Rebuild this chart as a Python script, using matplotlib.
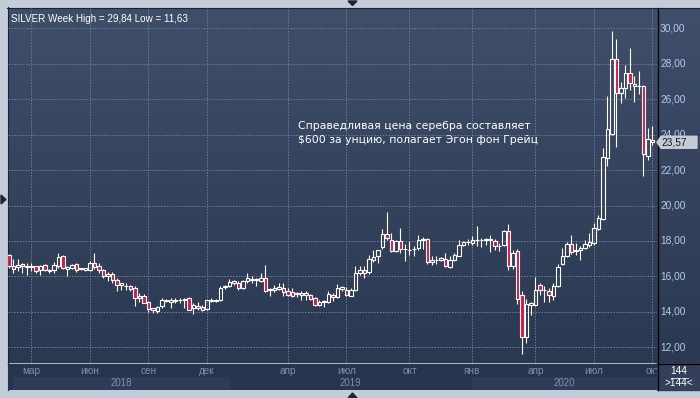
import numpy as np
import matplotlib
matplotlib.use('Agg')
import matplotlib.pyplot as plt
import matplotlib.colors as mcolors
from matplotlib.patches import Rectangle, Polygon
from matplotlib.transforms import blended_transform_factory

# weekly OHLC
opens = [17.21, 16.60, 16.52, 16.71, 16.56, 16.52, 16.56, 16.34, 16.65, 16.28,
         16.37, 16.60, 17.16, 16.43, 16.47, 16.71, 16.42, 16.47, 16.37, 16.75,
         16.56, 16.37, 16.13, 16.13, 15.81, 15.53, 15.48, 15.44, 15.35, 14.79,
         14.88, 14.54, 14.19, 14.04, 14.32, 14.60, 14.69, 14.60, 14.65, 14.69,
         14.79, 14.22, 14.35, 14.28, 14.17, 14.60, 14.65, 14.65, 15.40, 15.48,
         15.72, 15.60, 15.34, 15.75, 15.85, 15.81, 15.75, 15.91, 15.21, 15.25,
         15.30, 15.34, 15.15, 15.09, 15.06, 14.96, 15.06, 14.96, 14.77, 14.40,
         14.55, 14.53, 14.96, 14.81, 15.30, 15.25, 14.92, 15.21, 16.19, 16.38,
         16.23, 16.91, 17.13, 17.66, 18.42, 18.08, 17.42, 17.98, 17.55, 17.51,
         17.55, 17.60, 18.08, 18.11, 16.83, 16.91, 16.94, 16.98, 16.53, 16.94,
         17.17, 17.79, 17.92, 17.89, 18.06, 18.04, 18.04, 18.11, 18.02, 17.72,
         17.79, 18.55, 16.57, 17.42, 14.96, 12.57, 14.49, 14.40, 15.53, 15.21,
         15.19, 14.92, 15.43, 16.72, 17.17, 17.85, 17.42, 17.51, 17.60, 17.79,
         17.89, 18.68, 19.23, 22.67, 24.04, 28.25, 26.37, 26.62, 27.46, 26.85,
         26.75, 26.75, 22.78, 23.72]
highs = [17.25, 16.97, 16.97, 16.75, 16.75, 16.75, 16.60, 16.65, 16.70, 16.40,
         16.79, 17.30, 17.20, 16.56, 16.70, 16.75, 16.50, 16.50, 16.84, 17.34,
         16.75, 16.43, 16.22, 16.22, 15.90, 15.63, 15.63, 15.53, 15.44, 15.07,
         15.03, 14.60, 14.22, 14.35, 14.79, 14.75, 14.79, 14.79, 14.79, 14.79,
         14.83, 14.47, 14.54, 14.41, 14.69, 14.79, 14.70, 15.44, 15.53, 15.85,
         15.78, 15.72, 15.81, 16.19, 16.00, 15.91, 16.19, 16.66, 15.34, 15.53,
         15.62, 15.62, 15.34, 15.34, 15.09, 15.15, 15.15, 15.02, 14.83, 14.68,
         14.68, 15.15, 15.06, 15.58, 15.47, 15.40, 15.34, 16.57, 16.60, 16.60,
         17.23, 17.51, 17.51, 18.68, 19.62, 18.45, 18.08, 18.74, 17.80, 17.98,
         17.70, 18.36, 18.20, 18.17, 17.13, 17.17, 17.09, 17.32, 17.13, 17.32,
         18.08, 17.98, 18.11, 18.30, 18.87, 18.17, 18.17, 18.36, 18.11, 17.89,
         18.60, 18.98, 17.51, 17.55, 15.15, 14.72, 14.58, 15.96, 15.62, 15.47,
         15.34, 15.62, 16.72, 17.60, 17.92, 18.36, 17.89, 17.70, 18.08, 18.45,
         19.02, 19.49, 23.23, 26.18, 29.84, 29.40, 27.00, 27.93, 28.87, 27.30,
         27.60, 26.80, 24.38, 24.50]
lows = [16.50, 16.19, 16.28, 16.19, 16.09, 16.28, 16.20, 16.09, 16.30, 16.20,
        16.19, 16.47, 16.40, 16.00, 16.40, 16.22, 16.38, 16.30, 16.28, 16.40,
        16.19, 15.90, 15.72, 15.63, 15.16, 15.25, 15.25, 15.16, 14.32, 14.57,
        14.47, 13.98, 13.94, 13.94, 14.22, 14.55, 14.22, 14.47, 14.50, 14.22,
        14.10, 13.90, 14.13, 14.04, 14.13, 14.54, 14.55, 14.60, 15.30, 15.40,
        15.50, 15.21, 15.28, 15.62, 15.62, 15.43, 15.70, 15.09, 14.91, 15.09,
        15.21, 14.91, 14.87, 14.83, 14.83, 14.68, 14.68, 14.68, 14.34, 14.34,
        14.26, 14.49, 14.62, 14.77, 15.17, 14.87, 14.87, 15.15, 16.09, 15.91,
        16.15, 16.79, 16.75, 17.55, 18.08, 17.36, 17.36, 17.32, 16.85, 17.23,
        17.13, 17.51, 17.55, 16.72, 16.66, 16.72, 16.85, 16.51, 16.47, 16.85,
        17.13, 17.74, 17.79, 17.79, 17.74, 17.66, 17.79, 17.36, 17.51, 17.42,
        17.70, 16.38, 16.42, 14.45, 11.63, 12.26, 13.83, 14.34, 14.96, 14.53,
        14.58, 14.68, 15.40, 16.66, 17.09, 17.28, 17.23, 16.94, 17.55, 17.66,
        17.79, 18.64, 19.20, 22.24, 23.98, 23.33, 25.77, 26.05, 26.50, 25.85,
        26.30, 21.68, 22.56, 23.40]
closes = [16.60, 16.40, 16.65, 16.56, 16.54, 16.60, 16.28, 16.56, 16.37, 16.37,
          16.65, 17.12, 16.47, 16.52, 16.65, 16.37, 16.47, 16.37, 16.75, 16.52,
          16.37, 16.00, 16.04, 15.81, 15.53, 15.60, 15.44, 15.30, 14.79, 14.92,
          14.50, 14.17, 14.08, 14.28, 14.69, 14.69, 14.56, 14.65, 14.69, 14.70,
          14.13, 14.41, 14.22, 14.13, 14.65, 14.69, 14.62, 15.35, 15.48, 15.66,
          15.60, 15.34, 15.75, 15.90, 15.81, 15.85, 15.91, 15.15, 15.28, 15.34,
          15.40, 15.09, 14.96, 14.91, 15.02, 15.06, 14.96, 14.72, 14.36, 14.58,
          14.62, 15.02, 14.81, 15.34, 15.38, 14.96, 15.25, 16.19, 16.34, 16.19,
          16.98, 17.09, 17.47, 18.42, 18.17, 17.42, 17.98, 17.55, 17.57, 17.47,
          17.56, 18.08, 18.11, 16.79, 16.90, 16.92, 17.04, 16.57, 16.94, 17.23,
          17.79, 17.92, 17.93, 18.08, 18.04, 18.08, 18.11, 18.08, 17.70, 17.74,
          18.55, 16.60, 17.32, 14.72, 12.57, 14.43, 14.40, 15.25, 15.21, 15.25,
          14.94, 15.47, 16.53, 17.17, 17.85, 17.36, 17.51, 17.60, 17.85, 17.92,
          18.74, 19.30, 22.73, 24.30, 28.25, 26.37, 26.62, 27.46, 26.90, 26.75,
          26.72, 22.93, 23.76, 23.57]

month_labels = ['мар', 'июн', 'сен', 'дек', 'апр', 'июл', 'окт', 'янв', 'апр', 'июл', 'окт']
month_pos = [5, 18, 31, 44, 62, 75, 89, 103, 117, 130, 143]
years = ['2018', '2019', '2020']
year_edges = [0.8, 48.9, 102.9, 144.0]
price_levels = [12, 14, 16, 18, 20, 22, 24, 26, 28, 30]
last_price = 23.57
bar_count = 144
title = 'SILVER Week High = 29,84 Low = 11,63'
note = 'Справедливая цена серебра составляет\n$600 за унцию, полагает Эгон фон Грейц'

W, H = 700, 398
frame_col = '#c3cdda'
grid_col = '#6b7b98'
red = '#e3123c'
num_font = 'Liberation Sans'


def box(x0, y0, x1, y1):
    # pixel rectangle (top-left origin) -> figure fraction
    return [x0 / W, 1 - y1 / H, (x1 - x0) / W, (y1 - y0) / H]


fig = plt.figure(figsize=(7, 3.98), dpi=100, facecolor=frame_col)

# background layer in pixel coordinates
bg = fig.add_axes([0, 0, 1, 1])
bg.set_xlim(0, W)
bg.set_ylim(H, 0)
bg.axis('off')
c_top = np.array(mcolors.to_rgb('#3f4e69'))
c_bot = np.array(mcolors.to_rgb('#2b3852'))
t = np.linspace(0, 1, 256)[:, None, None]
bg.imshow(c_top + (c_bot - c_top) * t, extent=(8, W, 363, 8), aspect='auto', zorder=0)
bg.add_patch(Rectangle((657, 363), W - 657, 27, color='#34405b', zorder=1))
bg.plot([7.5, 7.5], [7, 390], color='#1b2233', lw=0.8, zorder=3)
bg.plot([7, W], [7.5, 7.5], color='#1b2233', lw=0.8, zorder=3)
bg.plot([657.5, 657.5], [8, 390], color='black', lw=0.9, zorder=3)
bg.plot([8, W], [363.5, 363.5], color='black', lw=0.9, zorder=3)
bg.add_patch(Polygon([[1, 195], [6, 199.5], [1, 204]], color='#1c2538', zorder=3))
bg.add_patch(Polygon([[348, 1], [357, 1], [352.5, 5.5]], color='#1c2538', zorder=3))
bg.add_patch(Polygon([[348, 398], [357, 398], [352.5, 393]], color='#1c2538', zorder=3))
bg.text(679, 371.5, str(bar_count), color='white', fontsize=7.2, family=num_font,
        ha='center', va='center', zorder=4)
bg.plot([671, 688], [377.5, 377.5], color='#c8d0dc', lw=0.7, zorder=4)
bg.text(679, 383.5, '>' + str(bar_count) + '<', color='white', fontsize=7.2,
        family=num_font, ha='center', va='center', zorder=4)

# main price area
ax = fig.add_axes(box(8, 8, 657, 363))
ax.patch.set_alpha(0)
ax.set_xlim(-0.222, 144.0)
ax.set_ylim(11.11, 31.15)
for s in ax.spines.values():
    s.set_visible(False)
ax.set_xticks([])
ax.set_yticks([])

for lv in price_levels:
    ax.axhline(lv, color=grid_col, lw=0.72, ls=(0, (1.44, 1.44)), zorder=1)
for mp in month_pos:
    ax.axvline(mp, color=grid_col, lw=0.72, ls=(0, (1.44, 1.44)), zorder=1)

o = np.array(opens)
h = np.array(highs)
lo = np.array(lows)
c = np.array(closes)
x = np.arange(len(o))
top_b = np.maximum(o, c)
bot_b = np.minimum(o, c)
ax.vlines(x, top_b, h, color='white', lw=0.8, zorder=3)
ax.vlines(x, lo, bot_b, color='white', lw=0.8, zorder=3)
face = [red if cc < oo else 'none' for oo, cc in zip(o, c)]
ax.bar(x, top_b - bot_b, bottom=bot_b, width=0.7, color=face,
       edgecolor='white', linewidth=0.8, zorder=4)

ax.text(0.004, 0.984, title, transform=ax.transAxes, color='white', fontsize=7.1,
        family=num_font, ha='left', va='top', zorder=5)
ax.text(290 / 649, 24.1, note, transform=blended_transform_factory(ax.transAxes, ax.transData),
        color='white', fontsize=7.8, family='DejaVu Sans', ha='left', va='center',
        linespacing=1.45, zorder=5)

# right price scale
tr = blended_transform_factory(ax.transAxes, ax.transData)
for lv in price_levels:
    ax.text(1.0046, lv, f'{lv:.2f}'.replace('.', ','), transform=tr, color='#b6cbe9',
            fontsize=7.3, family=num_font, ha='left', va='center', clip_on=False)
dy = 6.0 / 17.72
x0, x1, x2 = 1.0, 1.0062, 1.0616
tag = Polygon([[x0, last_price], [x1, last_price + dy], [x2, last_price + dy],
               [x2, last_price - dy], [x1, last_price - dy]], closed=True,
              transform=tr, color='#c5ccd4', clip_on=False, zorder=6)
ax.add_patch(tag)
ax.text(1.0062, last_price, f'{last_price:.2f}'.replace('.', ','), transform=tr,
        color='#141820', fontsize=7.3, family=num_font, ha='left', va='center',
        clip_on=False, zorder=7)

# time strip with month and year labels
st = fig.add_axes(box(8, 364, 657, 390))
st.set_facecolor('#27344e')
st.set_xlim(-0.222, 144.0)
st.set_ylim(1, 0)
for s in st.spines.values():
    s.set_visible(False)
st.set_xticks([])
st.set_yticks([])
for i, yr in enumerate(years):
    a, b = year_edges[i], year_edges[i + 1]
    if i % 2 == 0:
        st.add_patch(Rectangle((a, 0.5), b - a, 0.47, color='#2e3c58', zorder=1))
    st.text((a + b) / 2, 0.72, yr, color='#7e8fad', fontsize=7.0, family=num_font,
            ha='center', va='center', zorder=2)
for mp, lab in zip(month_pos, month_labels):
    st.text(mp, 0.27, lab, color='#7e8fad', fontsize=7.2, family=num_font,
            ha='center', va='center', clip_on=True, zorder=2)

fig.savefig('out.png', dpi=100, facecolor=frame_col)
